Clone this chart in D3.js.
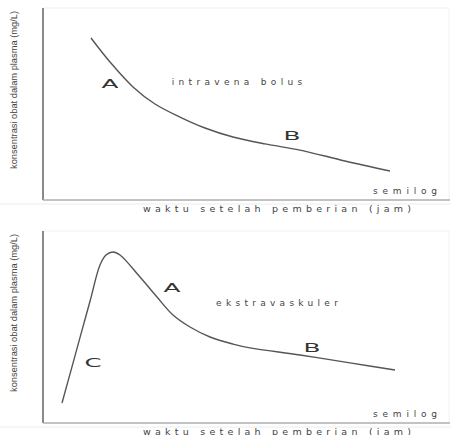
<!DOCTYPE html>
<html><head><meta charset="utf-8">
<script src="https://cdn.jsdelivr.net/npm/d3@7"></script>
<style>body{margin:0;background:#fff}svg{display:block}</style>
</head><body>
<svg id="c" width="451" height="435"></svg>
<script>
// Intravena bolus (time in arbitrary units, concentration in arbitrary units)
const ivTime = [2.35, 3.3, 4.45, 5.55, 6.8, 8.05, 9.45, 11.05, 12.8, 15.05, 17.3];
const ivConc = [84.4, 71.9, 58.9, 50, 43.2, 37.5, 32.8, 29.2, 26, 20.3, 15.1];
// Ekstravaskuler
const evTime = [0.9, 1.35, 1.85, 2.3, 2.8, 3.1, 3.45, 3.8, 4.8, 5.65, 6.45, 7.3, 8.3, 9.45, 10.3, 12.8, 15.3, 17.55];
const evConc = [10.4, 27.4, 46.4, 63.4, 82.3, 87.5, 89.1, 87.5, 76, 65.6, 56.25, 50, 44.8, 41.1, 39.1, 35.4, 31.3, 27.6];

const yTitle = "konsentrasi obat dalam plasma (mg/L)";
const xTitle = "waktu setelah pemberian (jam)";
const panels = [
  {top: 8, time: ivTime, conc: ivConc, title: "intravena bolus", titleX: 9.65, titleY: 61,
   labels: [{t: "A", x: 3.3, y: 60}, {t: "B", x: 12.4, y: 33}]},
  {top: 231, time: evTime, conc: evConc, title: "ekstravaskuler", titleX: 11.65, titleY: 62,
   labels: [{t: "A", x: 6.4, y: 70}, {t: "B", x: 13.4, y: 39}, {t: "C", x: 2.45, y: 31}]}
];

const svg = d3.select("#c");
const W = 451, left = 43, right = 449, plotH = 192;
const x = d3.scaleLinear().domain([0, 20]).range([44, 444]);
const FONT = "DejaVu Sans, Verdana, sans-serif";

panels.forEach(p => {
  const y = d3.scaleLinear().domain([0, 100]).range([p.top + plotH, p.top]);
  const g = svg.append("g");
  g.append("rect").attr("x", left).attr("y", p.top).attr("width", right - left).attr("height", plotH)
    .attr("fill", "none").attr("stroke", "#f2f2f2").attr("stroke-width", 1);
  g.append("line").attr("x1", left).attr("x2", left).attr("y1", p.top).attr("y2", p.top + plotH)
    .attr("stroke", "#8a8a8a").attr("stroke-width", 2);
  g.append("line").attr("x1", left).attr("x2", 450).attr("y1", p.top + plotH).attr("y2", p.top + plotH)
    .attr("stroke", "#b0b0b0").attr("stroke-width", 1.3);
  g.append("line").attr("x1", 0).attr("x2", W).attr("y1", p.top + plotH + 4).attr("y2", p.top + plotH + 4)
    .attr("stroke", "#ececec").attr("stroke-width", 1);

  const pts = p.time.map((t, i) => [t, p.conc[i]]);
  g.append("path").datum(pts)
    .attr("d", d3.line().x(d => x(d[0])).y(d => y(d[1])).curve(d3.curveCatmullRom.alpha(0.5)))
    .attr("fill", "none").attr("stroke", "#555").attr("stroke-width", 1.4);

  p.labels.forEach(l => {
    g.append("text").attr("x", x(l.x)).attr("y", y(l.y)).attr("text-anchor", "middle")
      .attr("font-family", FONT).attr("font-size", 13)
      .attr("fill", "#333").attr("textLength", 17).attr("lengthAdjust", "spacingAndGlyphs")
      .attr("dominant-baseline", "middle").text(l.t);
  });
  g.append("text").attr("x", x(p.titleX)).attr("y", y(p.titleY)).attr("text-anchor", "middle")
    .attr("dominant-baseline", "middle")
    .attr("font-family", FONT).attr("font-size", 9)
    .attr("fill", "#444").attr("textLength", p.title.length * 8.7).attr("lengthAdjust", "spacing")
    .text(p.title);
  g.append("text").attr("x", 405).attr("y", p.top + plotH - 9).attr("text-anchor", "middle")
    .attr("dominant-baseline", "middle")
    .attr("font-family", FONT).attr("font-size", 9)
    .attr("fill", "#444").attr("textLength", 64).attr("lengthAdjust", "spacing").text("semilog");
  g.append("text").attr("x", 277).attr("y", p.top + plotH + 9).attr("text-anchor", "middle")
    .attr("dominant-baseline", "middle")
    .attr("font-family", FONT).attr("font-size", 9.5)
    .attr("fill", "#444").attr("textLength", 268).attr("lengthAdjust", "spacing").text(xTitle);
  g.append("text").attr("transform", `translate(15,${p.top + 82}) rotate(-90)`).attr("text-anchor", "middle")
    .attr("dominant-baseline", "middle")
    .attr("font-family", "Liberation Sans Narrow, Liberation Sans, Arial, sans-serif").attr("font-size", 9)
    .attr("fill", "#444").attr("textLength", 158).attr("lengthAdjust", "spacingAndGlyphs").text(yTitle);
});
</script>
</body></html>
